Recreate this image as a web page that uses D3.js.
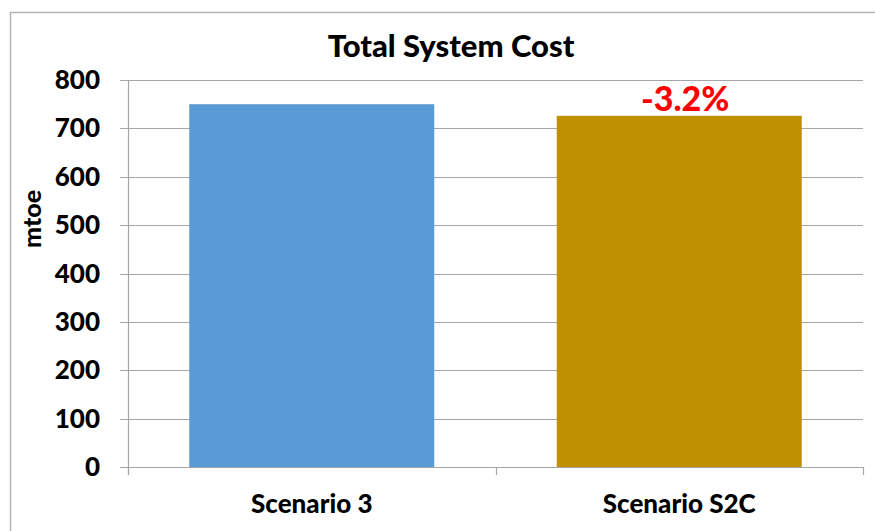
<!DOCTYPE html>
<html>
<head>
<meta charset="utf-8">
<script src="https://cdn.jsdelivr.net/npm/d3@7"></script>
<style>
  body { margin: 0; background: #fff; }
  text { font-family: Lato, "Open Sans", sans-serif; font-weight: 900; }
</style>
</head>
<body>
<div id="chart"></div>
<script>
// data
var categories = ["Scenario 3", "Scenario S2C"];
var costs = [750, 726];
var barColors = ["#5B9BD5", "#BF9000"];
var changeLabels = ["", "-3.2%"];
var yTicks = [0, 100, 200, 300, 400, 500, 600, 700, 800];

function init(){
    var w = 875, h = 531;
    var svg = d3.select("#chart").append("svg")
                .attr("width", w)
                .attr("height", h);

    var left = 128, right = 863, top = 80, bottom = 467;

    // outer frame (top and left edges visible)
    svg.append("path")
        .attr("d", "M10.5," + h + "V12.5H" + w)
        .attr("fill", "none")
        .attr("stroke", "#b3b3b3")
        .attr("stroke-width", 1.5);

    var xScale = d3.scaleBand()
                .domain(categories)
                .range([left, right])
                .paddingInner(1/3)
                .paddingOuter(1/6);

    var yScale = d3.scaleLinear()
                .domain([0, 800])
                .range([bottom, top]);

    // gridlines + y ticks
    svg.selectAll(".grid")
        .data(yTicks)
        .enter()
        .append("line")
        .attr("class", "grid")
        .attr("x1", left - 8)
        .attr("x2", right)
        .attr("y1", d => Math.round(yScale(d)) + 0.5)
        .attr("y2", d => Math.round(yScale(d)) + 0.5)
        .attr("stroke", "#a6a6a6")
        .attr("stroke-width", 1.2);

    svg.selectAll(".ylab")
        .data(yTicks)
        .enter()
        .append("text")
        .attr("class", "ylab")
        .attr("x", left - 28)
        .attr("y", d => yScale(d))
        .attr("dy", "0.35em")
        .attr("text-anchor", "end")
        .style("font-size", "26px")
        .text(d => d);

    // bars
    svg.selectAll("rect")
        .data(costs)
        .enter()
        .append("rect")
        .attr("x", (d, i) => xScale(categories[i]))
        .attr("y", d => yScale(d))
        .attr("width", xScale.bandwidth())
        .attr("height", d => bottom - yScale(d))
        .attr("fill", (d, i) => barColors[i]);

    // y axis line and category tick marks
    svg.append("line")
        .attr("x1", left + 0.5).attr("x2", left + 0.5)
        .attr("y1", top).attr("y2", bottom + 8)
        .attr("stroke", "#a6a6a6").attr("stroke-width", 1.2);

    var bounds = [left, (left + right) / 2, right];
    svg.selectAll(".xtick")
        .data(bounds)
        .enter()
        .append("line")
        .attr("class", "xtick")
        .attr("x1", d => Math.round(d) + 0.5).attr("x2", d => Math.round(d) + 0.5)
        .attr("y1", bottom).attr("y2", bottom + 8)
        .attr("stroke", "#a6a6a6").attr("stroke-width", 1.2);

    svg.append("line")
        .attr("x1", left).attr("x2", right)
        .attr("y1", bottom + 0.5).attr("y2", bottom + 0.5)
        .attr("stroke", "#a6a6a6").attr("stroke-width", 1.2);

    // category labels
    svg.selectAll(".xlab")
        .data(categories)
        .enter()
        .append("text")
        .attr("class", "xlab")
        .attr("x", d => xScale(d) + xScale.bandwidth() / 2)
        .attr("y", 513)
        .attr("text-anchor", "middle")
        .style("font-size", "26px")
        .text(d => d);

    // change labels above bars
    svg.selectAll(".chg")
        .data(costs)
        .enter()
        .append("text")
        .attr("class", "chg")
        .attr("x", (d, i) => xScale(categories[i]) + xScale.bandwidth() / 2 + 6)
        .attr("y", d => yScale(d) - 5)
        .attr("text-anchor", "middle")
        .style("font-size", "34px")
        .style("fill", "#FF0000")
        .text((d, i) => changeLabels[i]);

    // title
    svg.append("text")
        .attr("x", 451)
        .attr("y", 57)
        .attr("text-anchor", "middle")
        .style("font-size", "31px")
        .text("Total System Cost");

    // axis title
    svg.append("text")
        .attr("transform", "translate(41,219) rotate(-90)")
        .attr("text-anchor", "middle")
        .style("font-size", "25px")
        .text("mtoe");
}
window.onload = init;
</script>
</body>
</html>
